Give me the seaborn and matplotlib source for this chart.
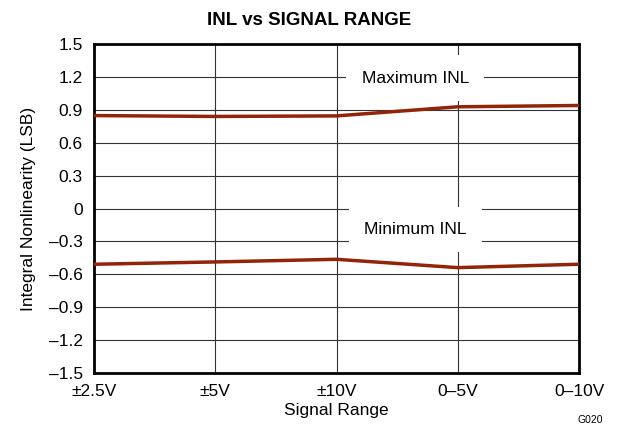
import numpy as np
import pandas as pd
import matplotlib.pyplot as plt
import seaborn as sns

ranges = ['±2.5V', '±5V', '±10V', '0–5V', '0–10V']
max_inl = [0.848, 0.840, 0.845, 0.928, 0.940]
min_inl = [-0.508, -0.487, -0.463, -0.539, -0.508]
yticks = [-1.5, -1.2, -0.9, -0.6, -0.3, 0, 0.3, 0.6, 0.9, 1.2, 1.5]
ytick_labels = ['–1.5', '–1.2', '–0.9', '–0.6', '–0.3', '0', '0.3', '0.6', '0.9', '1.2', '1.5']

sns.set_style('white')
plt.rcParams['font.family'] = ['Liberation Sans', 'DejaVu Sans']
plt.rcParams['text.color'] = 'black'
plt.rcParams['axes.labelcolor'] = 'black'

pos = np.arange(len(ranges))
df = pd.DataFrame({
    'pos': np.concatenate([pos, pos]),
    'inl': max_inl + min_inl,
    'series': ['Maximum INL'] * len(ranges) + ['Minimum INL'] * len(ranges),
})

fig = plt.figure(figsize=(6.18, 4.28), dpi=100)
ax = fig.add_axes([0.152, 0.1285, 0.785, 0.7685])

sns.lineplot(data=df, x='pos', y='inl', units='series', estimator=None,
             color='#922408', linewidth=2.5, ax=ax, zorder=3)

ax.set_xlim(0, len(ranges) - 1)
ax.set_ylim(-1.5, 1.5)
ax.set_xticks(pos)
ax.set_xticklabels(ranges)
ax.set_yticks(yticks)
ax.set_yticklabels(ytick_labels)
ax.tick_params(axis='x', length=0, labelsize=12.5, colors='black', pad=8)
ax.tick_params(axis='y', length=0, labelsize=12.5, colors='black', pad=8)
ax.grid(True, color='#333333', linewidth=0.8)
for s in ax.spines.values():
    s.set_color('black')
    s.set_linewidth(2)

ax.set_xlabel('Signal Range', fontsize=12.5, labelpad=3)
ax.set_ylabel('Integral Nonlinearity (LSB)', fontsize=12.5, labelpad=9)
ax.set_title('INL vs SIGNAL RANGE', fontsize=13.5, fontweight='bold', pad=14, x=0.443)

box = dict(facecolor='white', edgecolor='none', pad=11)
ax.text(2.65, 1.19, 'Maximum INL', ha='center', va='center', fontsize=12.5, bbox=box, zorder=4)
ax.text(2.65, -0.19, 'Minimum INL', ha='center', va='center', fontsize=12.5, bbox=box, zorder=4)

fig.text(0.955, 0.008, 'G020', fontsize=7.5, ha='center', va='bottom')

fig.savefig('out.png', dpi=100)
